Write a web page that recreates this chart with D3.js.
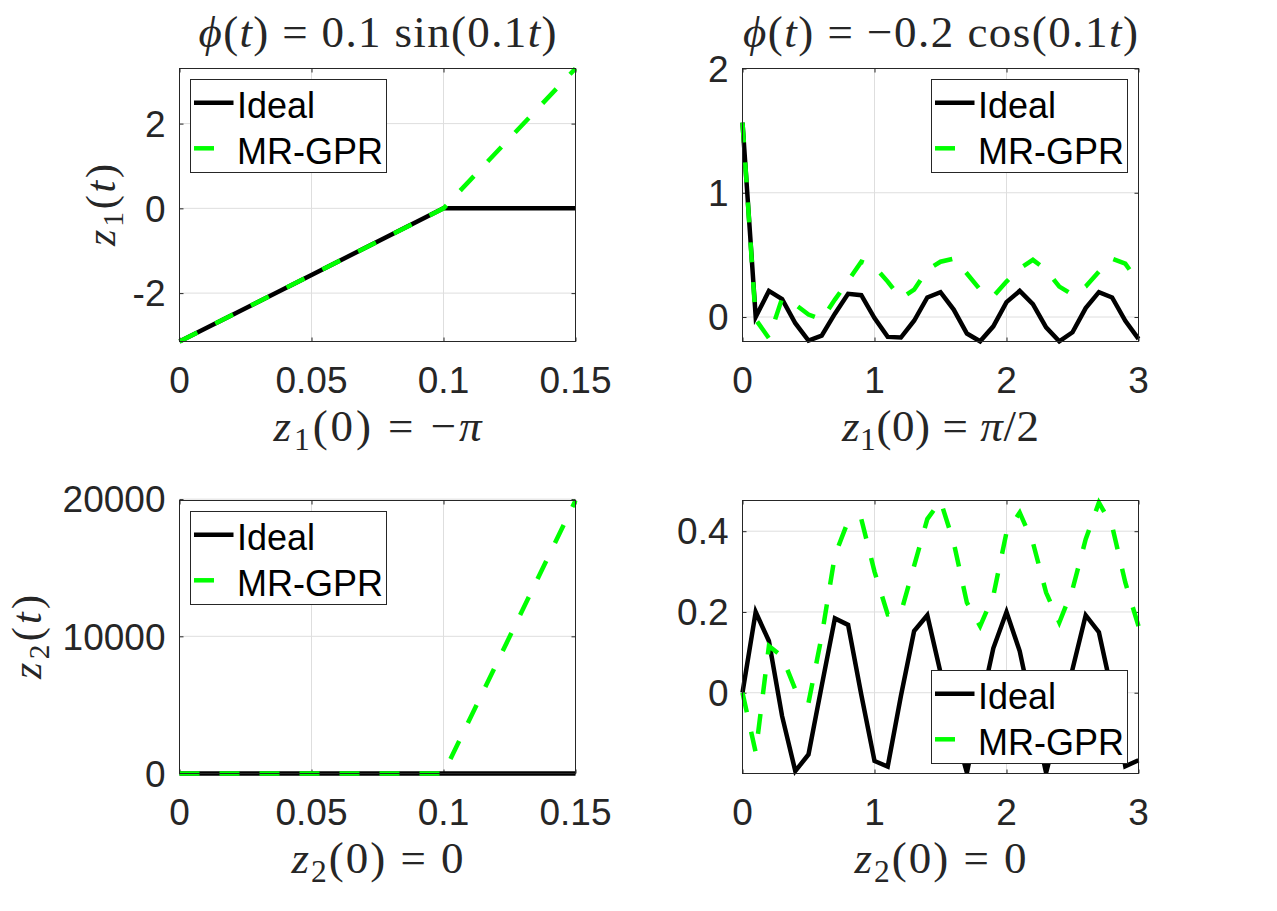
<!DOCTYPE html>
<html>
<head>
<meta charset="utf-8">
<script src="https://cdn.jsdelivr.net/npm/d3@7"></script>
<style>
  body { margin: 0; background: #fff; }
</style>
</head>
<body>
<script>
// time grids
const tShort = [0, 0.05, 0.1, 0.15];
const tLong = [0, 0.1, 0.2, 0.3, 0.4, 0.5, 0.6, 0.7, 0.8, 0.9, 1.0,
  1.1, 1.2, 1.3, 1.4, 1.5, 1.6, 1.7, 1.8, 1.9, 2.0,
  2.1, 2.2, 2.3, 2.4, 2.5, 2.6, 2.7, 2.8, 2.9, 3.0];

// phi = 0.1 sin(0.1t), z1(0) = -pi
const z1IdealA = [-3.1416, -1.5708, 0, 0];
const z1GprA = [-3.1416, -1.5708, 0, 3.3];
// phi = 0.1 sin(0.1t), z2(0) = 0
const z2IdealA = [0, 0, 0, 0];
const z2GprA = [0, 0, 0, 19900];

// phi = -0.2 cos(0.1t), z1(0) = pi/2
const z1IdealB = [1.565, 0.0, 0.21, 0.144, -0.05, -0.19, -0.15, 0.027, 0.187, 0.176, -0.008,
  -0.16, -0.165, -0.03, 0.157, 0.2, 0.06, -0.133, -0.195, -0.075, 0.12,
  0.21, 0.104, -0.083, -0.195, -0.123, 0.072, 0.2, 0.157, -0.03, -0.176];
const z1GprB = [1.565, -0.02, -0.17, 0.15, 0.1, 0.02, -0.02, 0.14, 0.29, 0.445, 0.405,
  0.285, 0.15, 0.22, 0.38, 0.445, 0.47, 0.35, 0.22, 0.165, 0.285,
  0.39, 0.46, 0.38, 0.245, 0.18, 0.245, 0.365, 0.47, 0.43, 0.28];
// phi = -0.2 cos(0.1t), z2(0) = 0
const z2IdealB = [0, 0.2, 0.128, -0.058, -0.194, -0.153, 0.017, 0.184, 0.168, -0.005, -0.169,
  -0.183, -0.008, 0.153, 0.192, 0.05, -0.08, -0.198, -0.04, 0.11, 0.2,
  0.103, -0.05, -0.198, -0.07, 0.058, 0.192, 0.15, 0.0, -0.182, -0.167];
const z2GprB = [0, -0.148, 0.116, 0.09, 0.008, -0.025, 0.14, 0.34, 0.425, 0.43, 0.3,
  0.194, 0.198, 0.314, 0.43, 0.475, 0.372, 0.223, 0.165, 0.24, 0.397,
  0.446, 0.372, 0.248, 0.174, 0.256, 0.38, 0.471, 0.413, 0.273, 0.165];

const ticksXA = [0, 0.05, 0.1, 0.15];
const ticksXB = [0, 1, 2, 3];
const ticksY1A = [-2, 0, 2];
const ticksY2A = [0, 10000, 20000];
const ticksY1B = [0, 1, 2];
const ticksY2B = [0, 0.2, 0.4];

const seriesNames = ["Ideal", "MR-GPR"];

const W = 1277, H = 911;
const ink = "#262626";
const mathFont = "'Liberation Serif', 'DejaVu Serif', serif";
const sansFont = "'Liberation Sans', Arial, sans-serif";
const mathSize = 45;
const ylabSize = 42;

const svg = d3.select("body").append("svg")
  .attr("width", W).attr("height", H)
  .attr("viewBox", `0 0 ${W} ${H}`);

// math-ish text: parts = [text, kind] kind: r roman, i italic, s subscript
function mathText(g, parts, size, len) {
  const txt = g.append("text")
    .style("font-family", mathFont)
    .style("font-size", size + "px")
    .attr("fill", ink);
  if (len) txt.attr("textLength", len).attr("lengthAdjust", "spacing");
  let shifted = false;
  parts.forEach(([s, k]) => {
    const ts = txt.append("tspan").text(s);
    if (k === "i") ts.style("font-style", "italic");
    if (k === "s") {
      ts.style("font-size", (size * 0.7) + "px").attr("dy", size * 0.2);
      shifted = true;
    } else if (shifted) {
      ts.attr("dy", -size * 0.2);
      shifted = false;
    }
  });
  return txt;
}

const panels = [
  { x0: 179.5, y0: 68.5, t: tShort, ideal: z1IdealA, gpr: z1GprA, xd: [0, 0.15], yd: [-3.1416, 3.3],
    xt: ticksXA, yt: ticksY1A, leg: [190.5, 79.5],
    title: [["ϕ", "i"], ["(", "r"], ["t", "i"], [") = 0.1 sin(0.1", "r"], ["t", "i"], [")", "r"]], titleLen: 358,
    xlab: [["z", "i"], ["1", "s"], ["(0) = −", "r"], ["π", "i"]], xlabLen: 208,
    ylab: [["z", "i"], ["1", "s"], ["(", "r"], ["t", "i"], [")", "r"]], ylabLen: 82, ylx: 115 },
  { x0: 742.5, y0: 68.5, t: tLong, ideal: z1IdealB, gpr: z1GprB, xd: [0, 3], yd: [-0.197, 2],
    xt: ticksXB, yt: ticksY1B, leg: [931.5, 79.5],
    title: [["ϕ", "i"], ["(", "r"], ["t", "i"], [") = −0.2 cos(0.1", "r"], ["t", "i"], [")", "r"]], titleLen: 395,
    xlab: [["z", "i"], ["1", "s"], ["(0) = ", "r"], ["π", "i"], ["/2", "r"]], xlabLen: 197 },
  { x0: 179.5, y0: 500.5, t: tShort, ideal: z2IdealA, gpr: z2GprA, xd: [0, 0.15], yd: [0, 19900],
    xt: ticksXA, yt: ticksY2A, leg: [190.5, 511.5],
    xlab: [["z", "i"], ["2", "s"], ["(0) = 0", "r"]], xlabLen: 172,
    ylab: [["z", "i"], ["2", "s"], ["(", "r"], ["t", "i"], [")", "r"]], ylabLen: 84, ylx: 41 },
  { x0: 742.5, y0: 500.5, t: tLong, ideal: z2IdealB, gpr: z2GprB, xd: [0, 3], yd: [-0.2, 0.476],
    xt: ticksXB, yt: ticksY2B, leg: [931.5, 670.5],
    xlab: [["z", "i"], ["2", "s"], ["(0) = 0", "r"]], xlabLen: 172 }
];

const pw = 396, ph = 273;

panels.forEach((p, i) => {
  const x = d3.scaleLinear().domain(p.xd).range([p.x0, p.x0 + pw]);
  const y = d3.scaleLinear().domain(p.yd).range([p.y0 + ph, p.y0]);
  const g = svg.append("g");

  g.append("rect").attr("x", p.x0).attr("y", p.y0).attr("width", pw).attr("height", ph)
    .attr("fill", "#fff");

  // grid
  g.append("g").selectAll("line").data(p.xt).join("line")
    .attr("x1", d => x(d)).attr("x2", d => x(d))
    .attr("y1", p.y0).attr("y2", p.y0 + ph)
    .attr("stroke", "#dedede").attr("stroke-width", 1);
  g.append("g").selectAll("line").data(p.yt).join("line")
    .attr("y1", d => y(d)).attr("y2", d => y(d))
    .attr("x1", p.x0).attr("x2", p.x0 + pw)
    .attr("stroke", "#dedede").attr("stroke-width", 1);

  // axes with inward ticks on all sides
  const tk = 4;
  const axB = g.append("g").attr("transform", `translate(0,${p.y0 + ph})`)
    .call(d3.axisBottom(x).tickValues(p.xt).tickSize(-tk).tickFormat(""));
  const axT = g.append("g").attr("transform", `translate(0,${p.y0})`)
    .call(d3.axisTop(x).tickValues(p.xt).tickSize(-tk).tickFormat(""));
  const axL = g.append("g").attr("transform", `translate(${p.x0},0)`)
    .call(d3.axisLeft(y).tickValues(p.yt).tickSize(-tk).tickFormat(""));
  const axR = g.append("g").attr("transform", `translate(${p.x0 + pw},0)`)
    .call(d3.axisRight(y).tickValues(p.yt).tickSize(-tk).tickFormat(""));
  [axB, axT, axL, axR].forEach(a => {
    a.select(".domain").remove();
    a.selectAll("line").attr("stroke", ink);
  });

  // tick labels (plain hyphen minus, like the original)
  g.append("g").selectAll("text").data(p.xt).join("text")
    .attr("x", d => x(d)).attr("y", p.y0 + ph + 51.5)
    .attr("text-anchor", "middle")
    .style("font-family", sansFont).style("font-size", "37px")
    .attr("fill", ink).text(d => String(d));
  g.append("g").selectAll("text").data(p.yt).join("text")
    .attr("x", p.x0 - 14).attr("y", d => y(d) + 13.3)
    .attr("text-anchor", "end")
    .style("font-family", sansFont).style("font-size", "37px")
    .attr("fill", ink).text(d => String(d));

  // lines
  const line = d3.line().x(d => x(d[0])).y(d => y(d[1]));
  const lg = g.append("g");
  lg.append("path").datum(p.t.map((t, j) => [t, p.ideal[j]]))
    .attr("d", line).attr("fill", "none").attr("stroke", "#000")
    .attr("stroke-width", 4.5).attr("stroke-linejoin", "miter");
  lg.append("path").datum(p.t.map((t, j) => [t, p.gpr[j]]))
    .attr("d", line).attr("fill", "none").attr("stroke", "#00ff00")
    .attr("stroke-width", 4.5).attr("stroke-dasharray", "20,20");

  // box
  g.append("rect").attr("x", p.x0).attr("y", p.y0).attr("width", pw).attr("height", ph)
    .attr("fill", "none").attr("stroke", ink).attr("stroke-width", 1);

  // legend
  const [lx, ly] = p.leg;
  const lgd = g.append("g").attr("transform", `translate(${lx},${ly})`);
  lgd.append("rect").attr("width", 196).attr("height", 93)
    .attr("fill", "#fff").attr("stroke", ink).attr("stroke-width", 1);
  seriesNames.forEach((name, k) => {
    const cy = 23.3 + k * 45.5;
    lgd.append("line").attr("x1", 3.5).attr("x2", 43).attr("y1", cy).attr("y2", cy)
      .attr("stroke", k === 0 ? "#000" : "#00ff00").attr("stroke-width", 4.5)
      .attr("stroke-dasharray", k === 0 ? null : "20,20");
    lgd.append("text").attr("x", 46.5).attr("y", cy + 15.6)
      .style("font-family", sansFont).style("font-size", "36px")
      .attr("fill", "#000").text(name);
  });

  // title
  if (p.title) {
    mathText(g, p.title, mathSize, p.titleLen).attr("x", p.x0 + pw / 2).attr("y", 47)
      .attr("text-anchor", "middle");
  }
  // xlabel
  mathText(g, p.xlab, mathSize, p.xlabLen).attr("x", p.x0 + pw / 2).attr("y", p.y0 + ph + 99)
    .attr("text-anchor", "middle");
  // ylabel
  if (p.ylab) {
    const cy = p.y0 + ph / 2;
    mathText(g, p.ylab, ylabSize, p.ylabLen).attr("text-anchor", "middle")
      .attr("transform", `translate(${p.ylx},${cy}) rotate(-90)`);
  }
});
</script>
</body>
</html>
